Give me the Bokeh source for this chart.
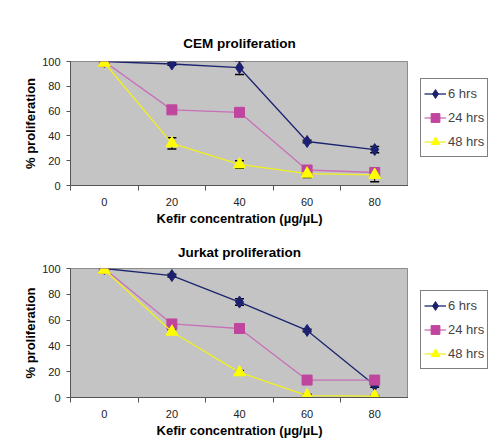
from bokeh.plotting import figure
from bokeh.models import (FixedTicker, Legend, LegendItem, Whisker, ColumnDataSource,
                          TeeHead, Range1d)
from bokeh.layouts import column, row
from bokeh.embed import file_html
from bokeh.resources import INLINE

conc = [0, 20, 40, 60, 80]
conc_ticks = [0, 20, 40, 60, 80]
series_names = ["6 hrs", "24 hrs", "48 hrs"]

cem_6 = [100, 98, 95, 35.5, 29]
cem_6_err = [0, 1, 5.5, 1, 2.5]
cem_24 = [100, 61, 59, 12.5, 10.5]
cem_24_err = [0, 1, 1, 1.5, 2.5]
cem_48 = [99, 34, 17, 9.5, 8.5]
cem_48_err = [0, 4.5, 3, 3, 5.5]

jur_6 = [100, 94.5, 74, 52, 9.5]
jur_6_err = [0, 1, 2.5, 1, 1.5]
jur_24 = [100, 57, 53.5, 13.5, 13.5]
jur_24_err = [0, 1, 1, 3, 3]
jur_48 = [99, 51, 19.5, 1.5, 1]
jur_48_err = [0, 1.5, 1.5, 1, 0.5]

line_colors = ["#1c2470", "#c870b8", "#f0f020"]
fill_colors = ["#1c2070", "#c0459e", "#ffff00"]
markers = ["diamond", "square", "triangle"]
sizes = [12, 10, 12]

FONT = "Liberation Sans"


def panel(title, ys, errs, height, top, bottom, title_gap):
    p = figure(width=408, height=height, output_backend="svg", toolbar_location=None,
               x_range=Range1d(-10, 90), y_range=Range1d(0, 100),
               min_border_left=70, min_border_right=0, min_border_top=top,
               min_border_bottom=bottom, title=title)
    p.title.align = "center"
    p.title.text_font = FONT
    p.title.text_font_size = "13.5px"
    p.title.text_font_style = "bold"
    p.title.text_color = "#000000"
    p.title.standoff = title_gap
    p.background_fill_color = "#c4c4c4"
    p.border_fill_color = "white"
    p.outline_line_color = "#8c8c8c"
    p.grid.visible = False

    p.xaxis.ticker = FixedTicker(ticks=conc_ticks, minor_ticks=[-10, 10, 30, 50, 70, 90])
    p.xaxis.major_tick_out = 0
    p.xaxis.major_tick_in = 0
    p.xaxis.minor_tick_out = 5
    p.xaxis.minor_tick_in = 0
    p.xaxis.minor_tick_line_color = "#555555"
    p.xaxis.axis_label = "Kefir concentration (\u00b5g/\u00b5L)"
    p.yaxis.ticker = FixedTicker(ticks=[0, 20, 40, 60, 80, 100])
    p.yaxis.major_tick_out = 4
    p.yaxis.major_tick_in = 0
    p.yaxis.minor_tick_line_color = None
    p.yaxis.axis_label = "% proliferation"
    for ax in (p.xaxis, p.yaxis):
        ax.axis_line_color = "#555555"
        ax.major_label_text_font = FONT
        ax.major_label_text_font_size = "11px"
        ax.major_label_text_color = "#222222"
        ax.axis_label_text_font = FONT
        ax.axis_label_text_font_size = "13px"
        ax.axis_label_text_font_style = "bold"
        ax.axis_label_text_color = "#000000"
    p.xaxis.major_tick_line_color = None
    p.yaxis.major_tick_line_color = "#555555"
    p.xaxis.major_label_standoff = 7
    p.xaxis.axis_label_standoff = 2
    p.yaxis.major_label_standoff = 6
    p.yaxis.axis_label_standoff = 1

    # legend panel: its frame lines up with the chart frame; series drawn off-view
    lg = figure(width=89, height=height, output_backend="svg", toolbar_location=None,
                x_range=Range1d(-1000, -999), y_range=Range1d(-1000, -999),
                x_axis_location=None, y_axis_location=None,
                min_border=0)
    lg.grid.visible = False
    lg.outline_line_color = None
    lg.background_fill_color = "white"

    items = []
    for i in range(3):
        y = ys[i]
        e = errs[i]
        p.line(conc, y, line_color=line_colors[i], line_width=1.3)
        idx = [k for k in range(5) if e[k] > 0]
        src = ColumnDataSource(dict(x=[conc[k] for k in idx],
                                    up=[y[k] + e[k] for k in idx],
                                    lo=[y[k] - e[k] for k in idx]))
        w = Whisker(source=src, base="x", upper="up", lower="lo", line_color="black",
                    line_width=1,
                    upper_head=TeeHead(size=9, line_color="black", line_width=1.5),
                    lower_head=TeeHead(size=9, line_color="black", line_width=1.5))
        p.add_layout(w)
        p.scatter(conc, y, marker=markers[i], size=sizes[i], fill_color=fill_colors[i],
                  line_color=fill_colors[i])
        ln = lg.line(conc, y, line_color=line_colors[i], line_width=1.3)
        sc = lg.scatter(conc, y, marker=markers[i], size=sizes[i] - 1,
                        fill_color=fill_colors[i], line_color=fill_colors[i])
        items.append(LegendItem(label=series_names[i], renderers=[ln, sc]))

    leg = Legend(items=items, location=(12, 28), border_line_color="black",
                 border_line_width=1, background_fill_color="white",
                 background_fill_alpha=1, label_text_font=FONT,
                 label_text_font_size="13px", glyph_width=22, glyph_height=23,
                 spacing=1, padding=3, label_standoff=2, margin=0)
    lg.add_layout(leg)
    return row(p, lg, spacing=0)


r1 = panel("CEM proliferation", [cem_6, cem_24, cem_48],
           [cem_6_err, cem_24_err, cem_48_err], 228, 61, 38, 22)
r2 = panel("Jurkat proliferation", [jur_6, jur_24, jur_48],
           [jur_6_err, jur_24_err, jur_48_err], 212, 40, 42, 18)

page = column(r1, r2, spacing=0)
open("out.html", "w").write(file_html(page, INLINE))
